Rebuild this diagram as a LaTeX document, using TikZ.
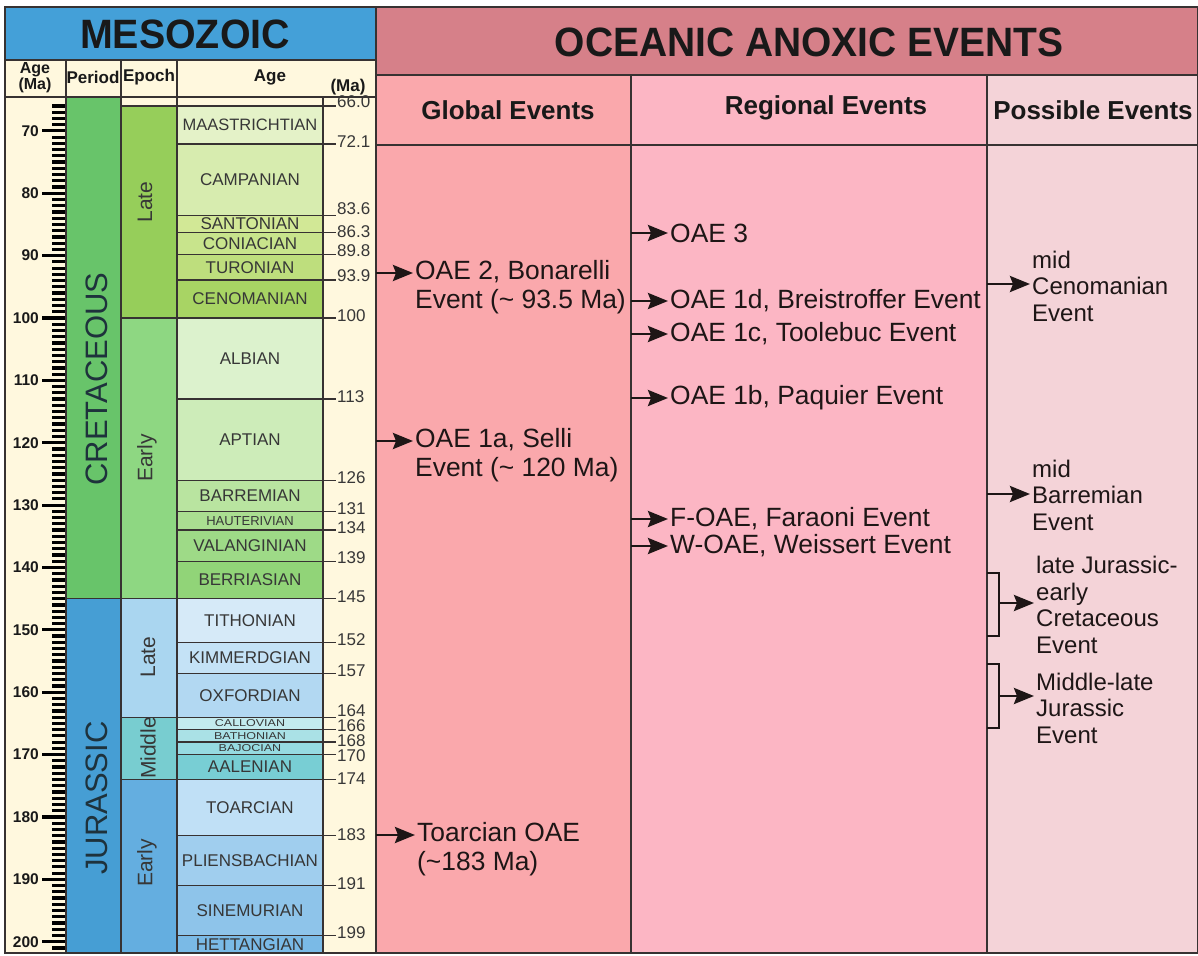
\documentclass[tikz,border=0pt]{standalone}
\usepackage{fontspec}
\setmainfont{Liberation Sans}
\usepackage{graphicx}
\usetikzlibrary{arrows.meta}
\definecolor{lncol}{RGB}{55,50,50}
\definecolor{stcol}{RGB}{55,55,55}
\definecolor{evcol}{RGB}{30,22,22}
\definecolor{hdcol}{RGB}{25,25,25}
\definecolor{percol}{RGB}{30,50,60}
\definecolor{mesoblue}{RGB}{68,160,216}
\definecolor{cream}{RGB}{255,248,222}
\definecolor{oaehead}{RGB}{214,128,137}
\definecolor{globc}{RGB}{250,168,172}
\definecolor{regc}{RGB}{252,182,196}
\definecolor{posc}{RGB}{244,211,216}
\definecolor{cretP}{RGB}{104,196,106}
\definecolor{cretLate}{RGB}{150,206,90}
\definecolor{cretEarly}{RGB}{142,215,130}
\definecolor{jurP}{RGB}{70,158,212}
\definecolor{jurLate}{RGB}{170,214,240}
\definecolor{jurMid}{RGB}{120,205,208}
\definecolor{jurEarly}{RGB}{100,174,224}
\definecolor{stMaa}{RGB}{228,242,200}
\definecolor{stCam}{RGB}{215,236,175}
\definecolor{stSan}{RGB}{210,232,150}
\definecolor{stCon}{RGB}{200,228,140}
\definecolor{stTur}{RGB}{190,222,125}
\definecolor{stCen}{RGB}{168,212,100}
\definecolor{stAlb}{RGB}{220,242,205}
\definecolor{stApt}{RGB}{205,236,185}
\definecolor{stBar}{RGB}{185,228,160}
\definecolor{stHau}{RGB}{170,222,145}
\definecolor{stVal}{RGB}{158,218,135}
\definecolor{stBer}{RGB}{145,212,120}
\definecolor{stTit}{RGB}{214,234,248}
\definecolor{stKim}{RGB}{196,226,246}
\definecolor{stOxf}{RGB}{178,216,242}
\definecolor{stCal}{RGB}{195,235,238}
\definecolor{stBat}{RGB}{170,225,230}
\definecolor{stBaj}{RGB}{150,218,225}
\definecolor{stAal}{RGB}{120,206,212}
\definecolor{stToa}{RGB}{192,224,246}
\definecolor{stPli}{RGB}{160,206,238}
\definecolor{stSin}{RGB}{142,196,234}
\definecolor{stHet}{RGB}{122,186,230}
\newcommand{\fsz}[2]{\fontsize{#1}{#2}\selectfont}
\newcommand{\Ym}[1]{318+(#1-100)*6.237}
\begin{document}
\begin{tikzpicture}[x=1pt,y=-1pt,
  bline/.style={draw=lncol,line width=1.3pt},
  frame/.style={draw=lncol,line width=1.5pt},
  tickmark/.style={draw=black,line width=3.2pt},
  stage/.style={inner sep=0pt,text=stcol},
  numlab/.style={anchor=west,inner sep=0pt,text=stcol,font=\fsz{17}{17}},
  ticklab/.style={anchor=east,inner sep=0pt,text=hdcol,font=\bfseries\fsz{15.5}{15.5}},
  hdr/.style={inner sep=0pt,font=\bfseries\fsz{17}{17},text=hdcol,align=center},
  evtext/.style={anchor=west,inner sep=0pt,align=left,font=\fsz{26.4}{29},text=evcol},
  posstext/.style={anchor=west,inner sep=0pt,align=left,font=\fsz{24}{26.5},text=evcol},
  evarrow/.style={line width=2.8pt,draw=evcol,-{Stealth[length=20pt,width=16pt,inset=3pt]},shorten >=2pt},
  bracketline/.style={line width=2.4pt,draw=evcol},
  epochlab/.style={rotate=90,inner sep=0pt,font=\fsz{21}{21},text=stcol},
  periodlab/.style={rotate=90,inner sep=0pt,font=\fsz{31}{31},text=percol},
]
\useasboundingbox (0,0) rectangle (1198,955);
% backgrounds
\fill[cream] (5,60) rectangle (376,953);
\fill[mesoblue] (5,7) rectangle (376,60);
\fill[oaehead] (376,7) rectangle (1198,75);
\fill[globc] (376,75) rectangle (631,953);
\fill[regc] (631,75) rectangle (987,953);
\fill[posc] (987,75) rectangle (1198,953);
% periods
\fill[cretP] (66,97) rectangle (121,{\Ym{145}});
\fill[jurP] (66,{\Ym{145}}) rectangle (121,953);
% epochs
\fill[cretLate] (121,{\Ym{66}}) rectangle (177,{\Ym{100}});
\fill[cretEarly] (121,{\Ym{100}}) rectangle (177,{\Ym{145}});
\fill[jurLate] (121,{\Ym{145}}) rectangle (177,{\Ym{164}});
\fill[jurMid] (121,{\Ym{164}}) rectangle (177,{\Ym{174}});
\fill[jurEarly] (121,{\Ym{174}}) rectangle (177,953);
% stages
\foreach \t/\b/\c/\n/\s/\v [count=\i] in {
  66/72.1/stMaa/MAASTRICHTIAN/16.5/1,
  72.1/83.6/stCam/CAMPANIAN/17/1,
  83.6/86.3/stSan/SANTONIAN/17/1,
  86.3/89.8/stCon/CONIACIAN/17/1,
  89.8/93.9/stTur/TURONIAN/17/1,
  93.9/100/stCen/CENOMANIAN/17/1,
  100/113/stAlb/ALBIAN/17/1,
  113/126/stApt/APTIAN/17/1,
  126/131/stBar/BARREMIAN/17/1,
  131/134/stHau/HAUTERIVIAN/13/1,
  134/139/stVal/VALANGINIAN/17/1,
  139/145/stBer/BERRIASIAN/17/1,
  145/152/stTit/TITHONIAN/17/1,
  152/157/stKim/KIMMERDGIAN/17/1,
  157/164/stOxf/OXFORDIAN/17/1,
  164/166/stCal/CALLOVIAN/12.5/0.8,
  166/168/stBat/BATHONIAN/12.5/0.8,
  168/170/stBaj/BAJOCIAN/12.5/0.8,
  170/174/stAal/AALENIAN/17/1,
  174/183/stToa/TOARCIAN/17/1,
  183/191/stPli/PLIENSBACHIAN/17/1,
  191/199/stSin/SINEMURIAN/17/1,
  199/201.8/stHet/HETTANGIAN/17/1}{
  \fill[\c] (177,{\Ym{\t}}) rectangle (323,{\Ym{\b}});
  \node[stage,font=\fsz{\s}{\s}] (st\i) at (250,{(\Ym{\t}+\Ym{\b})/2}) {\scalebox{1}[\v]{\n}};
}
% boundary lines
\foreach \m in {72.1,83.6,86.3,89.8,93.9,113,126,131,134,139,152,157,166,168,170,183,191,199}
  \draw[bline] (177,{\Ym{\m}}) -- (336,{\Ym{\m}});
\foreach \m in {66,100,164,174}
  \draw[bline] (121,{\Ym{\m}}) -- (336,{\Ym{\m}});
\draw[bline] (66,{\Ym{145}}) -- (336,{\Ym{145}});
% age scale ticks
\foreach \m in {66,...,201}
  \draw[tickmark] (52,{\Ym{\m}}) -- (66,{\Ym{\m}});
\foreach \m in {70,80,...,200}{
  \draw[tickmark] (42,{\Ym{\m}}) -- (66,{\Ym{\m}});
  \node[ticklab] (tl\m) at (39,{\Ym{\m}}) {\m};
}
% grid lines
\draw[frame] (5,60) -- (376,60);
\draw[frame] (5,97) -- (376,97);
\foreach \xx in {66,121,177} \draw[bline] (\xx,60) -- (\xx,953);
\draw[bline] (323,97) -- (323,953);
\draw[frame] (376,75) -- (1198,75);
\draw[frame] (376,145) -- (1198,145);
\draw[bline] (631,75) -- (631,953);
\draw[bline] (987,75) -- (987,953);
\draw[frame] (376,7) -- (376,953);
\draw[frame] (5,7) rectangle (1198,953);
% numeric labels
\foreach \v/\yy [count=\i] in {66.0/102,72.1/142,83.6/209,86.3/232,89.8/251,93.9/276,100/316,113/397,126/478,131/509,134/528,139/558,145/597,152/640,157/671,164/711,166/726,168/741,170/756,174/779,183/835,191/884,199/933}
  \node[numlab] (num\i) at (337,\yy) {\v};
% headers
\node[inner sep=0pt,font=\bfseries\fsz{41}{41},text=hdcol] (meso) at (185,34) {\scalebox{0.96}[1]{MESOZOIC}};
\node[inner sep=0pt,font=\bfseries\fsz{41}{41},text=hdcol] (oae) at (809,42) {\scalebox{0.95}[1]{OCEANIC ANOXIC EVENTS}};
\node[hdr,font=\bfseries\fsz{16}{16}] (hage) at (35,78) {Age\\(Ma)};
\node[hdr] (hper) at (93,77) {Period};
\node[hdr] (hepo) at (149,77) {Epoch};
\node[hdr] (hst) at (270,77) {Age};
\node[hdr] (hma) at (348,87) {(Ma)};
\node[inner sep=0pt,font=\bfseries\fsz{26}{26},text=hdcol] (hglob) at (508,110) {Global Events};
\node[inner sep=0pt,font=\bfseries\fsz{26}{26},text=hdcol] (hreg) at (826,108) {Regional Events};
\node[inner sep=0pt,font=\bfseries\fsz{26}{26},text=hdcol] (hpos) at (1093,110) {Possible Events};
% period and epoch labels
\node[periodlab] (cret) at (97,379) {CRETACEOUS};
\node[periodlab] (jur) at (97,798) {JURASSIC};
\node[epochlab] (elk) at (145,202) {Late};
\node[epochlab] (eek) at (147,458) {Early};
\node[epochlab] (elj) at (148,657) {Late};
\node[epochlab] (emj) at (148,748) {Middle};
\node[epochlab] (eej) at (147,863) {Early};
% global events
\node[evtext] (g2) at (415,287.5) {OAE 2, Bonarelli\\Event (\textasciitilde{} 93.5 Ma)};
\coordinate (g2s) at (376,273);
\draw[evarrow] (g2s) -- (g2s -| g2.west);
\node[evtext] (g1a) at (415,455) {OAE 1a, Selli\\Event (\textasciitilde{} 120 Ma)};
\coordinate (g1as) at (376,441);
\draw[evarrow] (g1as) -- (g1as -| g1a.west);
\node[evtext] (gt) at (417,849.5) {Toarcian OAE\\(\textasciitilde183 Ma)};
\coordinate (gts) at (376,835);
\draw[evarrow] (gts) -- (gts -| gt.west);
% regional events
\foreach \yy/\txt [count=\i] in {233/{OAE 3},301/{OAE 1d, Breistroffer Event},334/{OAE 1c, Toolebuc Event},398/{OAE 1b, Paquier Event},519/{F-OAE, Faraoni Event},546/{W-OAE, Weissert Event}}{
  \node[evtext] (r\i) at (670,\yy) {\txt};
  \coordinate (rs\i) at (631,\yy);
  \draw[evarrow] (rs\i) -- (r\i.west);
}
% possible events
\node[posstext] (pcen) at (1032,286) {mid\\Cenomanian\\Event};
\coordinate (pcens) at (987,284);
\draw[evarrow] (pcens) -- (pcens -| pcen.west);
\node[posstext] (pbar) at (1032,495) {mid\\Barremian\\Event};
\coordinate (pbars) at (987,494);
\draw[evarrow] (pbars) -- (pbars -| pbar.west);
\node[posstext] (pljec) at (1036,605) {late Jurassic-\\early\\Cretaceous\\Event};
\draw[bracketline] (987,573) -- (999,573) -- (999,636) -- (987,636);
\coordinate (pljecs) at (999,603);
\draw[evarrow] (pljecs) -- (pljecs -| pljec.west);
\node[posstext] (pmlj) at (1036,708) {Middle-late\\Jurassic\\Event};
\draw[bracketline] (987,664) -- (999,664) -- (999,728) -- (987,728);
\coordinate (pmljs) at (999,696);
\draw[evarrow] (pmljs) -- (pmljs -| pmlj.west);
\end{tikzpicture}
\end{document}
